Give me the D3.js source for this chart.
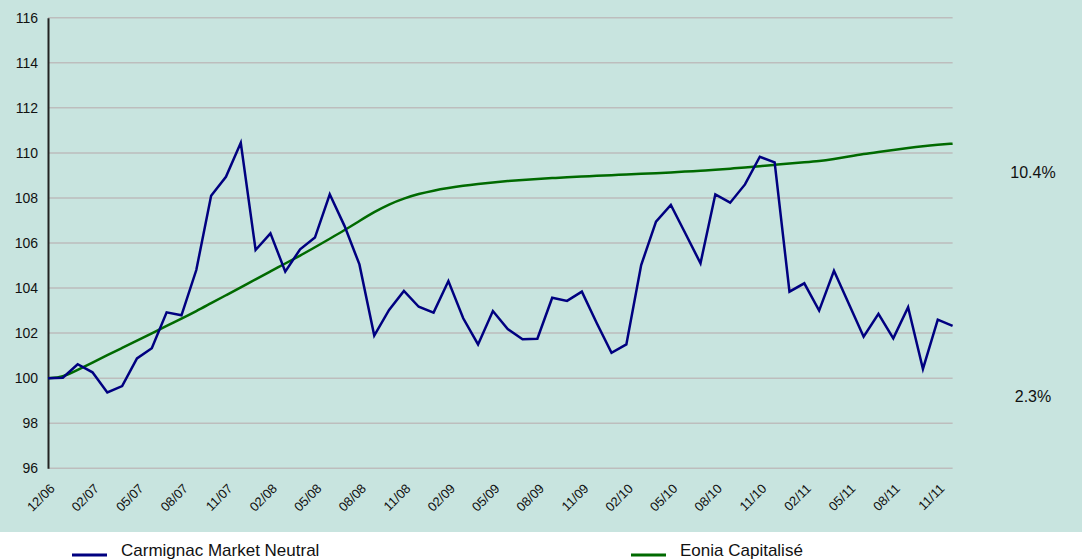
<!DOCTYPE html>
<html>
<head>
<meta charset="utf-8">
<script src="https://cdn.jsdelivr.net/npm/d3@7"></script>
<style>
  html, body { margin: 0; padding: 0; background: #fff; }
  svg { display: block; font-family: "Liberation Sans", Arial, sans-serif; }
  .ytick text { font-size: 14px; fill: #111; font-family: "Liberation Sans", Arial, sans-serif; }
  .xtick text { font-size: 13px; fill: #111; font-family: "Liberation Sans", Arial, sans-serif; }
</style>
</head>
<body>
<svg id="chart" width="1082" height="559"></svg>
<script>
'use strict';

// monthly points, a label every third one
const tickLabels = ['12/06', '02/07', '05/07', '08/07', '11/07', '02/08', '05/08', '08/08', '11/08',
  '02/09', '05/09', '08/09', '11/09', '02/10', '05/10', '08/10', '11/10', '02/11', '05/11', '08/11', '11/11'];

const carmignac = [100.0, 100.02, 100.62, 100.26, 99.37, 99.65, 100.88, 101.33, 102.92, 102.79,
  104.8, 108.10, 108.94, 110.45, 105.69, 106.43, 104.73, 105.72, 106.24, 108.16,
  106.75, 105.05, 101.89, 103.03, 103.87, 103.17, 102.91, 104.31, 102.66, 101.50,
  102.98, 102.18, 101.73, 101.75, 103.57, 103.43, 103.84, 102.45, 101.13, 101.50,
  105.02, 106.95, 107.69, 106.4, 105.10, 108.16, 107.79, 108.6, 109.83, 109.58,
  103.84, 104.21, 103.0, 104.77, 103.3, 101.84, 102.86, 101.77, 103.15, 100.41,
  102.6, 102.32];

const eonia = [100.0, 100.04, 100.37, 100.69, 101.02, 101.34, 101.66, 101.99, 102.32, 102.64,
  102.97, 103.33, 103.68, 104.03, 104.39, 104.74, 105.09, 105.44, 105.81, 106.19,
  106.57, 106.98, 107.38, 107.72, 107.98, 108.18, 108.33, 108.44, 108.54, 108.62,
  108.69, 108.75, 108.80, 108.84, 108.88, 108.92, 108.95, 108.98, 109.01, 109.04,
  109.07, 109.10, 109.13, 109.17, 109.21, 109.25, 109.30, 109.35, 109.41, 109.47,
  109.53, 109.58, 109.63, 109.73, 109.84, 109.95, 110.04, 110.13, 110.22, 110.30,
  110.36, 110.41];

const yTicks = [96, 98, 100, 102, 104, 106, 108, 110, 112, 114, 116];
const seriesNames = ['Carmignac Market Neutral', 'Eonia Capitalisé'];
const seriesColors = ['#000080', '#006a00'];
// performance labels on the right, with the level they sit at
const perfLabels = ['10.4%', '2.3%'];
const perfLevels = [109.15, 99.2];

const svg = d3.select('#chart');

svg.append('rect')
   .attr('width', 1082)
   .attr('height', 532)
   .attr('fill', '#c8e4df');

const x = d3.scalePoint()
   .domain(d3.range(carmignac.length))
   .range([48, 952.6]);

const y = d3.scaleLinear()
   .domain([96, 116])
   .range([468.3, 17.7]);

// horizontal grid
svg.append('g')
   .selectAll('line')
   .data(yTicks)
   .join('line')
     .attr('x1', 48)
     .attr('x2', 952.6)
     .attr('y1', d => y(d))
     .attr('y2', d => y(d))
     .attr('stroke', '#bdbdbd')
     .attr('stroke-width', 1.5);

// y axis
const yAxis = svg.append('g')
   .attr('class', 'ytick')
   .attr('transform', 'translate(48,0)')
   .call(d3.axisLeft(y).tickValues(yTicks).tickSize(0).tickPadding(10));
yAxis.attr('font-size', null).attr('font-family', null);
yAxis.select('.domain').attr('stroke', '#222').attr('stroke-width', 2);

// x axis labels, rotated
const xAxis = svg.append('g')
   .attr('class', 'xtick')
   .attr('transform', `translate(0, ${y(96)})`)
   .call(d3.axisBottom(x)
     .tickValues(d3.range(0, carmignac.length, 3))
     .tickFormat(i => tickLabels[i / 3])
     .tickSize(0));
xAxis.attr('font-size', null).attr('font-family', null);
xAxis.select('.domain').remove();
xAxis.selectAll('text')
   .attr('text-anchor', 'end')
   .attr('dy', 0)
   .attr('y', 0)
   .attr('transform', 'translate(7,21) rotate(-45)');

const line = d3.line()
   .x((d, i) => x(i))
   .y(d => y(d));

svg.append('path')
   .datum(eonia)
   .attr('fill', 'none')
   .attr('stroke', seriesColors[1])
   .attr('stroke-width', 2.5)
   .attr('d', line.curve(d3.curveBasis));

svg.append('path')
   .datum(carmignac)
   .attr('fill', 'none')
   .attr('stroke', seriesColors[0])
   .attr('stroke-width', 2.5)
   .attr('d', line.curve(d3.curveLinear));

// right hand performance labels
svg.append('g')
   .selectAll('text')
   .data(perfLabels)
   .join('text')
     .attr('x', 1033)
     .attr('y', (d, i) => y(perfLevels[i]))
     .attr('dy', '0.35em')
     .attr('text-anchor', 'middle')
     .style('font-size', '16px')
     .attr('fill', '#111')
     .text(d => d);

// legend
const legendX = [72, 631];
const legend = svg.append('g')
   .selectAll('g')
   .data(seriesNames)
   .join('g')
     .attr('transform', (d, i) => `translate(${legendX[i]}, 555)`);

legend.append('line')
   .attr('x1', 0)
   .attr('x2', 35)
   .attr('stroke', (d, i) => seriesColors[i])
   .attr('stroke-width', 3);

legend.append('text')
   .attr('x', 49)
   .attr('y', 1)
   .style('font-size', '17px')
   .attr('fill', '#111')
   .text(d => d);
</script>
</body>
</html>
